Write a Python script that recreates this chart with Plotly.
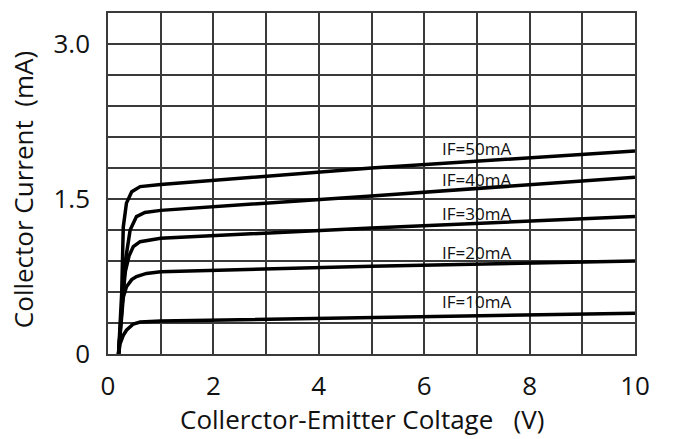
import plotly.graph_objects as go

# ---- data ----
vce_10 = [0.2, 0.23, 0.29, 0.35, 0.48, 0.61, 1.0, 5.0, 10.0]
ic_10 = [0.0, 0.10, 0.18, 0.23, 0.29, 0.31, 0.32, 0.355, 0.394]

vce_20 = [0.2, 0.25, 0.29, 0.35, 0.45, 0.54, 0.73, 1.0, 5.0, 10.0]
ic_20 = [0.0, 0.35, 0.55, 0.65, 0.72, 0.75, 0.78, 0.797, 0.85, 0.90]

vce_30 = [0.2, 0.26, 0.33, 0.40, 0.48, 0.61, 1.0, 5.0, 10.0]
ic_30 = [0.0, 0.45, 0.80, 0.95, 1.04, 1.087, 1.12, 1.22, 1.33]

vce_40 = [0.2, 0.27, 0.33, 0.42, 0.54, 0.70, 1.0, 5.0, 10.0]
ic_40 = [0.0, 0.50, 0.90, 1.20, 1.33, 1.37, 1.39, 1.53, 1.71]

vce_50 = [0.2, 0.26, 0.29, 0.35, 0.45, 0.61, 1.0, 5.0, 10.0]
ic_50 = [0.0, 0.59, 1.23, 1.46, 1.57, 1.62, 1.64, 1.80, 1.965]

curve_labels = ["IF=10mA", "IF=20mA", "IF=30mA", "IF=40mA", "IF=50mA"]
label_x = [7.0, 7.0, 7.0, 7.0, 7.0]
label_y = [0.506, 0.98, 1.36, 1.69, 1.99]

x_tickvals = [0, 1, 2, 3, 4, 5, 6, 7, 8, 9, 10]
x_ticktext = ["0", "", "2", "", "4", "", "6", "", "8", "", "10"]
y_tickvals = [0, 0.3, 0.6, 0.9, 1.2, 1.5, 1.8, 2.1, 2.4, 2.7, 3.0, 3.3]
y_ticktext = ["0", "", "", "", "", "1.5", "", "", "", "", "3.0", ""]

x_title = "Collerctor-Emitter Coltage &nbsp;&nbsp;(V)"
y_title = "Collector Current &nbsp;(mA)"

FONT = "Open Sans"

fig = go.Figure()
for xs, ys in [(vce_10, ic_10), (vce_20, ic_20), (vce_30, ic_30), (vce_40, ic_40), (vce_50, ic_50)]:
    fig.add_trace(go.Scatter(x=xs, y=ys, mode="lines",
                             line=dict(color="black", width=3.5), showlegend=False))

for t, lx, ly in zip(curve_labels, label_x, label_y):
    fig.add_annotation(x=lx, y=ly, text=t, showarrow=False,
                       font=dict(family=FONT, size=17, color="#111"))

# axis titles
fig.add_annotation(xref="paper", yref="paper", x=0.482, y=-0.191,
                   xanchor="center", yanchor="middle", text=x_title, showarrow=False,
                   font=dict(family=FONT, size=26, color="#111"))
fig.add_annotation(xref="paper", yref="paper", x=-0.161, y=0.481,
                   xanchor="center", yanchor="middle", text=y_title, showarrow=False,
                   textangle=-90, font=dict(family=FONT, size=26, color="#111"))

grid_color = "#3a3a3a"
fig.update_layout(
    width=675, height=439,
    margin=dict(l=108, r=40, t=13, b=85),
    paper_bgcolor="white", plot_bgcolor="white",
    font=dict(family=FONT, color="#111"),
    xaxis=dict(range=[0, 10], tickvals=x_tickvals, ticktext=x_ticktext,
               showgrid=True, gridcolor=grid_color, gridwidth=1.5,
               showline=True, linecolor=grid_color, linewidth=1.5, mirror=True,
               zeroline=False, ticks="", ticklabelstandoff=8,
               tickfont=dict(size=26, family=FONT, color="#111")),
    yaxis=dict(range=[0, 3.3], tickvals=y_tickvals, ticktext=y_ticktext,
               showgrid=True, gridcolor=grid_color, gridwidth=1.5,
               showline=True, linecolor=grid_color, linewidth=1.5, mirror=True,
               zeroline=False, ticks="", ticklabelstandoff=11,
               tickfont=dict(size=26, family=FONT, color="#111")),
)

fig.write_html("out.html", config={"displayModeBar": False},
               post_script="document.body.style.margin='0';")
